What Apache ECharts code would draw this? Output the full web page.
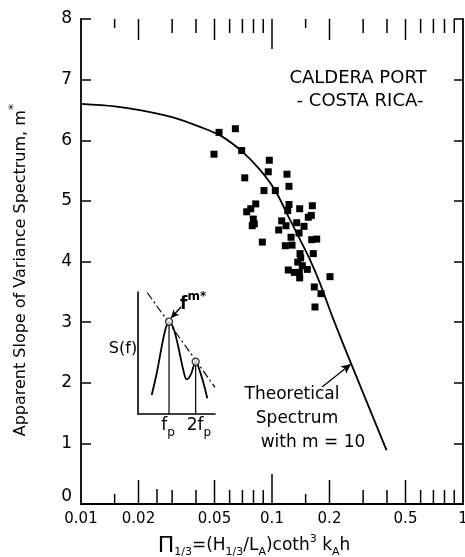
<!DOCTYPE html>
<html><head><meta charset="utf-8">
<script src="https://cdn.jsdelivr.net/npm/echarts@6/dist/echarts.min.js"></script>
<style>html,body{margin:0;padding:0;background:#fff}#c{width:465px;height:557px}</style>
</head><body><div id="c"></div>
<script>
// Observed data (Caldera Port, Costa Rica)
const obsX = [0.0528,0.0643,0.0497,0.0694,0.0968,0.0956,0.1198,0.0720,0.1227,0.0908,0.1041,0.0822,0.0774,0.0737,0.1227,0.1209,0.1396,0.1626,0.1606,0.1549,0.0798,0.0808,0.0788,0.1124,0.1184,0.1347,0.1471,0.1084,0.1385,0.1258,0.1614,0.1714,0.0890,0.1174,0.1273,0.1402,0.1645,0.1413,0.1364,0.1441,0.1217,0.1309,0.1531,0.1390,0.1396,0.2012,0.1665,0.1805,0.1679];
const obsY = [6.13,6.19,5.77,5.83,5.67,5.48,5.44,5.38,5.24,5.17,5.17,4.95,4.87,4.82,4.94,4.84,4.87,4.92,4.76,4.73,4.70,4.62,4.59,4.67,4.59,4.64,4.58,4.52,4.47,4.40,4.36,4.37,4.32,4.26,4.27,4.13,4.13,4.06,3.99,3.93,3.86,3.82,3.87,3.82,3.73,3.75,3.58,3.47,3.25];
// Theoretical spectrum with m = 10
const curveX = [0.01,0.015,0.02,0.03,0.042,0.0535,0.0694,0.0866,0.1039,0.1242,0.1402,0.158,0.1784,0.2094,0.2615,0.3976];
const curveY = [6.60,6.56,6.50,6.38,6.22,6.08,5.82,5.51,5.17,4.69,4.36,4.03,3.64,3.05,2.29,0.89];
// Axis ticks / labels
const xTicks = [0.015,0.02,0.025,0.03,0.04,0.05,0.06,0.07,0.08,0.09,0.1,0.15,0.2,0.3,0.4,0.5,0.6,0.7,0.8,0.9];
const xTickLabels = ['0.01','0.02','0.05','0.1','0.2','0.5','1'];
const yTicks = [0,1,2,3,4,5,6,7,8];
// Inset sketch S(f) (normalized units)
const insetU = [0.178,0.243,0.308,0.360,0.403,0.468,0.532,0.588,0.632,0.684,0.727,0.749,0.805,0.857,0.900];
const insetV = [0.156,0.334,0.552,0.702,0.757,0.689,0.525,0.361,0.284,0.320,0.402,0.429,0.347,0.238,0.129];
const peakU = [0.403,0.749];
const peakV = [0.757,0.429];
const slopeU = [0.121,1.0];
const slopeV = [0.994,0.219];

const FONT = 'DejaVu Sans';
const chart = echarts.init(document.getElementById('c'), null, {renderer:'canvas'});

function tickLen(v, top){
  const e = Math.floor(Math.log10(v) + 1e-9);
  const m = +(v / Math.pow(10, e)).toFixed(2);
  if (m === 1) return 30;
  if (m === 2 || m === 5) return top ? 21 : 24;
  if (m === 1.5) return top ? 9 : 10;
  if (m === 2.5) return top ? 0 : 15;
  return 14;
}

const axisLineStyle = {color:'#000', width:1.8};
const series = [
  {
    type:'line', xAxisIndex:0, yAxisIndex:0, smooth:0.3, showSymbol:false, symbol:'none',
    data: curveX.map((x,i)=>[x,curveY[i]]),
    lineStyle:{color:'#000', width:1.8}, z:3,
    markLine:{silent:true, symbol:['none','arrow'], symbolSize:[7,10],
      lineStyle:{color:'#000', width:1.3, type:'solid'}, label:{show:false},
      data:[[{coord:[0.1828,1.93]},{coord:[0.2593,2.31]}]]}
  },
  {
    type:'scatter', xAxisIndex:0, yAxisIndex:0, symbol:'rect', symbolSize:7,
    itemStyle:{color:'#000', opacity:1}, data: obsX.map((x,i)=>[x,obsY[i]]), z:4
  },
  {
    type:'custom', xAxisIndex:0, yAxisIndex:0, clip:false, silent:true, z:5,
    data: xTicks.map(v=>[v,0]),
    renderItem:(params, api)=>{
      const v = api.value(0);
      const b = api.coord([v,0]); const t = api.coord([v,8]);
      const lb = tickLen(v,false), lt = tickLen(v,true);
      return {type:'group', children:[
        {type:'line', shape:{x1:b[0],y1:b[1],x2:b[0],y2:b[1]-lb}, style:{stroke:'#000',lineWidth:1.5}},
        {type:'line', shape:{x1:t[0],y1:t[1],x2:t[0],y2:t[1]+lt}, style:{stroke:'#000',lineWidth:1.5}}
      ]};
    }
  },
  {
    type:'custom', xAxisIndex:0, yAxisIndex:0, clip:false, silent:true, z:5,
    data: xTickLabels.map(s=>[parseFloat(s),0]),
    renderItem:(params, api)=>{
      const p = api.coord([api.value(0),0]);
      return {type:'text', x:p[0], y:p[1]+15, style:{text:xTickLabels[params.dataIndex], fill:'#000',
        font:'15px "'+FONT+'"', align:'center', verticalAlign:'middle'}};
    }
  },
  // inset
  {
    type:'line', xAxisIndex:2, yAxisIndex:2, smooth:0.35, symbol:'none',
    data: insetU.map((u,i)=>[u,insetV[i]]), lineStyle:{color:'#000', width:1.8}
  },
  {
    type:'line', xAxisIndex:2, yAxisIndex:2, symbol:'none',
    data: slopeU.map((u,i)=>[u,slopeV[i]]), lineStyle:{color:'#000', width:1.2, type:[8,3,2,3]},
    markLine:{silent:true, symbol:['none','arrow'], symbolSize:[6,8],
      lineStyle:{color:'#000', width:1.3, type:'solid'}, label:{show:false},
      data:[[{coord:[0.558,0.877]},{coord:[0.429,0.787]}]]}
  }
];
peakU.forEach((u,i)=>{
  series.push({type:'line', xAxisIndex:2, yAxisIndex:2, symbol:'none',
    data:[[u,0],[u,peakV[i]]], lineStyle:{color:'#000', width:1.2}});
});
series.push({type:'scatter', xAxisIndex:2, yAxisIndex:2, symbol:'circle', symbolSize:7,
  itemStyle:{color:'#fff', borderColor:'#000', borderWidth:1.3}, data: peakU.map((u,i)=>[u,peakV[i]]), z:6});

const option = {
  animation:false,
  backgroundColor:'#fff',
  grid:[
    {left:81, top:19, width:382, height:485},
    {left:138, top:292, width:77, height:122}
  ],
  xAxis:[
    {type:'log', logBase:10, min:0.01, max:1, gridIndex:0, position:'bottom',
      axisLine:{show:true, lineStyle:axisLineStyle}, axisTick:{show:false}, axisLabel:{show:false}, splitLine:{show:false}},
    {type:'log', logBase:10, min:0.01, max:1, gridIndex:0, position:'top',
      axisLine:{show:true, lineStyle:axisLineStyle}, axisTick:{show:false}, axisLabel:{show:false}, splitLine:{show:false}},
    {type:'value', min:0, max:1, gridIndex:1, axisLine:{show:true, onZero:false, lineStyle:{color:'#000', width:1.6}},
      axisTick:{show:false}, axisLabel:{show:false}, splitLine:{show:false}}
  ],
  yAxis:[
    {type:'value', min:0, max:8, interval:1, gridIndex:0, position:'left',
      axisLine:{show:true, lineStyle:axisLineStyle},
      axisTick:{show:true, inside:true, length:10, lineStyle:{color:'#000', width:1.5}},
      axisLabel:{color:'#000', fontFamily:FONT, fontSize:17, margin:9,
        formatter:v=> v===0 ? '{z|0}' : String(v), rich:{z:{fontFamily:FONT, fontSize:17, color:'#000', padding:[0,0,14,0]}}},
      splitLine:{show:false}},
    {type:'value', min:0, max:8, interval:1, gridIndex:0, position:'right',
      axisLine:{show:true, lineStyle:axisLineStyle},
      axisTick:{show:true, inside:true, length:9, lineStyle:{color:'#000', width:1.5}},
      axisLabel:{show:false}, splitLine:{show:false}},
    {type:'value', min:0, max:1, gridIndex:1, axisLine:{show:true, onZero:false, lineStyle:{color:'#000', width:1.6}},
      axisTick:{show:false}, axisLabel:{show:false}, splitLine:{show:false}}
  ],
  series: series,
  graphic:[
    {type:'text', x:358, y:78, style:{text:'CALDERA PORT', font:'18px "'+FONT+'"', fill:'#000', align:'center', verticalAlign:'middle'}},
    {type:'text', x:360, y:101, style:{text:'- COSTA RICA-', font:'18px "'+FONT+'"', fill:'#000', align:'center', verticalAlign:'middle'}},
    {type:'text', x:292, y:395, style:{text:'Theoretical', font:'17px "'+FONT+'"', fill:'#000', align:'center', verticalAlign:'middle'}},
    {type:'text', x:297, y:419, style:{text:'Spectrum', font:'17px "'+FONT+'"', fill:'#000', align:'center', verticalAlign:'middle'}},
    {type:'text', x:313, y:443, style:{text:'with m = 10', font:'17px "'+FONT+'"', fill:'#000', align:'center', verticalAlign:'middle'}},
    {type:'text', x:123, y:349, style:{text:'S(f)', font:'16px "'+FONT+'"', fill:'#000', align:'center', verticalAlign:'middle'}},
    {type:'text', x:180, y:302, style:{text:'{n|f}{s|m*}', align:'left', verticalAlign:'middle',
      rich:{n:{fontFamily:FONT, fontSize:17, fontWeight:'bold', lineHeight:22, verticalAlign:'bottom', fill:'#000'},
            s:{fontFamily:FONT, fontSize:12, fontWeight:'bold', lineHeight:22, verticalAlign:'top', fill:'#000'}}}},
    {type:'text', x:168, y:428, style:{text:'{n|f}{s|p}', align:'center', verticalAlign:'middle',
      rich:{n:{fontFamily:FONT, fontSize:17, lineHeight:22, verticalAlign:'top', fill:'#000'},
            s:{fontFamily:FONT, fontSize:12, lineHeight:22, verticalAlign:'bottom', fill:'#000'}}}},
    {type:'text', x:199, y:428, style:{text:'{n|2f}{s|p}', align:'center', verticalAlign:'middle',
      rich:{n:{fontFamily:FONT, fontSize:17, lineHeight:22, verticalAlign:'top', fill:'#000'},
            s:{fontFamily:FONT, fontSize:12, lineHeight:22, verticalAlign:'bottom', fill:'#000'}}}},
    {type:'text', x:18, y:270, rotation:Math.PI/2, style:{text:'{n|Apparent Slope of Variance Spectrum, m}{s|*}', align:'center', verticalAlign:'middle',
      rich:{n:{fontFamily:FONT, fontSize:16, lineHeight:22, verticalAlign:'bottom', fill:'#000'},
            s:{fontFamily:FONT, fontSize:13, lineHeight:22, verticalAlign:'top', fill:'#000'}}}},
    {type:'text', x:254, y:546, style:{text:'{p|Π}{b|1/3}{n|=(H}{b|1/3}{n|/L}{b|A}{n|)coth}{t|3}{n| k}{b|A}{n|h}', align:'center', verticalAlign:'middle',
      rich:{p:{fontFamily:FONT, fontSize:22, lineHeight:24, verticalAlign:'middle', fill:'#000'},
            n:{fontFamily:FONT, fontSize:17, lineHeight:24, verticalAlign:'middle', fill:'#000'},
            b:{fontFamily:FONT, fontSize:11, lineHeight:24, verticalAlign:'bottom', fill:'#000'},
            t:{fontFamily:FONT, fontSize:11, lineHeight:24, verticalAlign:'top', fill:'#000'}}}}
  ]
};
chart.setOption(option);
</script></body></html>
